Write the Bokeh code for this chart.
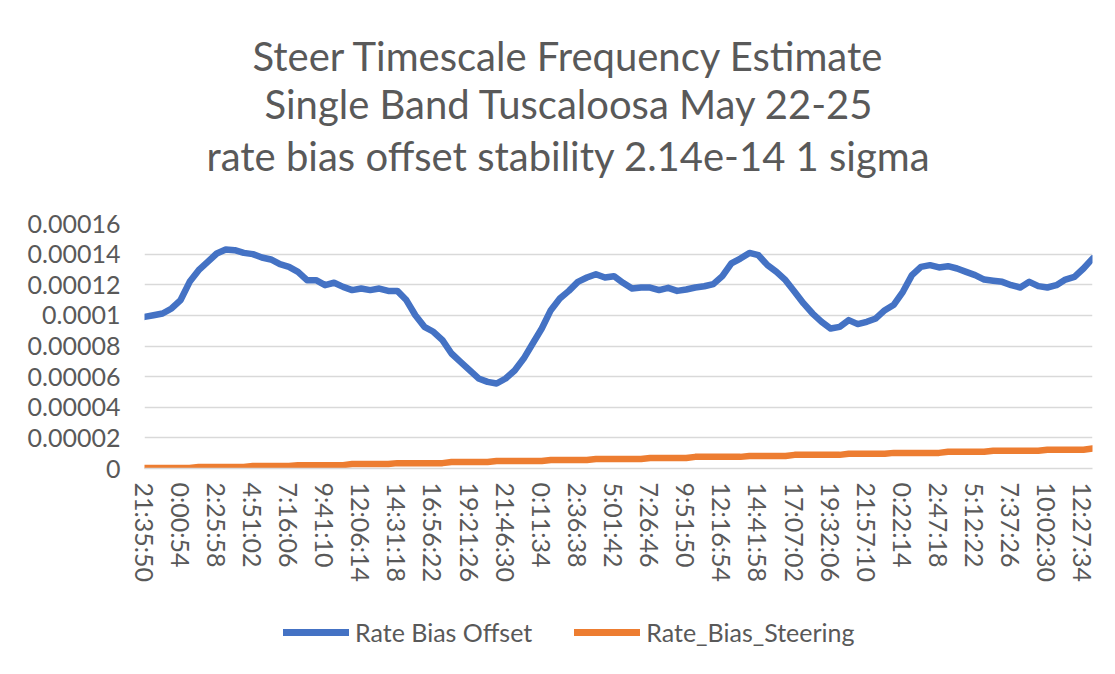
from bokeh.plotting import figure
from bokeh.layouts import column
from bokeh.models import Range1d, FixedTicker, CustomJSTickFormatter, Title, Legend, LegendItem, ColumnDataSource
from bokeh.embed import file_html
from bokeh.resources import INLINE

# ---- data ----
title_lines = [
    "Steer Timescale Frequency Estimate",
    "Single Band Tuscaloosa May 22-25",
    "rate bias offset stability 2.14e-14 1 sigma",
]
series_names = ["Rate Bias Offset", "Rate_Bias_Steering"]

time_labels = [
    "21:35:50", "0:00:54", "2:25:58", "4:51:02", "7:16:06", "9:41:10", "12:06:14",
    "14:31:18", "16:56:22", "19:21:26", "21:46:30", "0:11:34", "2:36:38", "5:01:42",
    "7:26:46", "9:51:50", "12:16:54", "14:41:58", "17:07:02", "19:32:06", "21:57:10",
    "0:22:14", "2:47:18", "5:12:22", "7:37:26", "10:02:30", "12:27:34",
]
samples_per_label = 4

rate_bias_offset = [
    0.0000990, 0.0001001, 0.0001012, 0.0001045, 0.0001100, 0.0001219, 0.0001295, 0.0001350,
    0.0001404, 0.0001430, 0.0001426, 0.0001408, 0.0001400, 0.0001378, 0.0001365, 0.0001334,
    0.0001317, 0.0001284, 0.0001230, 0.0001230, 0.0001197, 0.0001213, 0.0001186, 0.0001165,
    0.0001175, 0.0001165, 0.0001175, 0.0001160, 0.0001160, 0.0001100, 0.0001001, 0.0000925,
    0.0000893, 0.0000838, 0.0000751, 0.0000697, 0.0000642, 0.0000588, 0.0000566, 0.0000555,
    0.0000588, 0.0000640, 0.0000718, 0.0000816, 0.0000914, 0.0001034, 0.0001110, 0.0001160,
    0.0001219, 0.0001247, 0.0001269, 0.0001247, 0.0001256, 0.0001213, 0.0001175, 0.0001182,
    0.0001182, 0.0001165, 0.0001180, 0.0001160, 0.0001169, 0.0001182, 0.0001190, 0.0001204,
    0.0001256, 0.0001339, 0.0001371, 0.0001408, 0.0001393, 0.0001328, 0.0001284, 0.0001230,
    0.0001154, 0.0001078, 0.0001012, 0.0000958, 0.0000914, 0.0000925, 0.0000969, 0.0000943,
    0.0000958, 0.0000980, 0.0001034, 0.0001070, 0.0001154, 0.0001263, 0.0001317, 0.0001328,
    0.0001313, 0.0001321, 0.0001306, 0.0001284, 0.0001263, 0.0001234, 0.0001226, 0.0001219,
    0.0001197, 0.0001182, 0.0001219, 0.0001191, 0.0001182, 0.0001197, 0.0001234, 0.0001252,
    0.0001306, 0.0001371,
]

rate_bias_steering = [
    0.0000003, 0.0000003, 0.0000003, 0.0000003, 0.0000003, 0.0000003,
    0.0000010, 0.0000010, 0.0000010, 0.0000010, 0.0000010, 0.0000010,
    0.0000016, 0.0000016, 0.0000016, 0.0000016, 0.0000016,
    0.0000022, 0.0000022, 0.0000022, 0.0000022, 0.0000022, 0.0000022,
    0.0000029, 0.0000029, 0.0000029, 0.0000029, 0.0000029,
    0.0000035, 0.0000035, 0.0000035, 0.0000035, 0.0000035, 0.0000035,
    0.0000042, 0.0000042, 0.0000042, 0.0000042, 0.0000042,
    0.0000049, 0.0000049, 0.0000049, 0.0000049, 0.0000049, 0.0000049,
    0.0000056, 0.0000056, 0.0000056, 0.0000056, 0.0000056,
    0.0000062, 0.0000062, 0.0000062, 0.0000062, 0.0000062, 0.0000062,
    0.0000069, 0.0000069, 0.0000069, 0.0000069, 0.0000069,
    0.0000076, 0.0000076, 0.0000076, 0.0000076, 0.0000076, 0.0000076,
    0.0000082, 0.0000082, 0.0000082, 0.0000082, 0.0000082,
    0.0000089, 0.0000089, 0.0000089, 0.0000089, 0.0000089, 0.0000089,
    0.0000096, 0.0000096, 0.0000096, 0.0000096, 0.0000096,
    0.0000102, 0.0000102, 0.0000102, 0.0000102, 0.0000102, 0.0000102,
    0.0000109, 0.0000109, 0.0000109, 0.0000109, 0.0000109,
    0.0000116, 0.0000116, 0.0000116, 0.0000116, 0.0000116, 0.0000116,
    0.0000123, 0.0000123, 0.0000123, 0.0000123, 0.0000123,
    0.0000130,
]

y_ticks = [0.0, 0.00002, 0.00004, 0.00006, 0.00008, 0.0001, 0.00012, 0.00014, 0.00016]

# ---- build ----
n = len(rate_bias_offset)
sample_index = list(range(n))
source = ColumnDataSource(dict(x=sample_index, offset=rate_bias_offset, steering=rate_bias_steering))

FONT = "Lato"
TXT = "#595959"
BLUE = "#4472C4"
ORANGE = "#ED7D31"

p = figure(width=1099, height=600, output_backend="svg", toolbar_location=None,
           x_range=Range1d(0, n - 1), y_range=Range1d(y_ticks[0], y_ticks[-1]),
           min_border_left=144, min_border_right=7, min_border_top=223, min_border_bottom=132,
           background_fill_color="white", border_fill_color="white")
p.outline_line_color = None

# titles: stacked outward from the plot frame (spacer first)
p.add_layout(Title(text=" ", text_font=FONT, text_font_size="30px", standoff=3), "above")
title_offsets = [108, 120, 62]
title_standoffs = [-2, -2, 6]
for line, off, so in reversed(list(zip(title_lines, title_offsets, title_standoffs))):
    p.add_layout(Title(text=line, align="left", offset=off, text_font=FONT,
                       text_font_size="40px", text_font_style="normal", text_color=TXT,
                       standoff=so), "above")

p.line("x", "offset", source=source, line_color=BLUE, line_width=6.5,
       line_cap="round", line_join="round")
p.line("x", "steering", source=source, line_color=ORANGE, line_width=6.5,
       line_cap="round", line_join="round")

# axes
tick_pos = [i * samples_per_label for i in range(len(time_labels))]
p.xaxis.ticker = FixedTicker(ticks=tick_pos)
p.xaxis.major_label_overrides = {t: lab for t, lab in zip(tick_pos, time_labels)}
p.xaxis.major_label_orientation = "vertical"
p.xaxis.axis_line_color = "#d9d9d9"
p.xaxis.axis_line_width = 1.5
p.xaxis.major_tick_line_color = None
p.xaxis.minor_tick_line_color = None
p.xaxis.major_tick_out = 0
p.xaxis.minor_tick_out = 0
p.xaxis.major_label_standoff = 14
p.xaxis.major_label_text_font = FONT
p.xaxis.major_label_text_font_size = "25px"
p.xaxis.major_label_text_color = TXT

p.yaxis.ticker = FixedTicker(ticks=y_ticks)
p.yaxis.formatter = CustomJSTickFormatter(code="return tick.toFixed(5).replace(/\\.?0+$/, '');")
p.yaxis.axis_line_color = None
p.yaxis.major_tick_line_color = None
p.yaxis.minor_tick_line_color = None
p.yaxis.major_tick_out = 0
p.yaxis.minor_tick_out = 0
p.yaxis.major_label_standoff = 24
p.yaxis.major_label_text_font = FONT
p.yaxis.major_label_text_font_size = "25px"
p.yaxis.major_label_text_color = TXT

p.xgrid.visible = False
p.ygrid.grid_line_color = "#d9d9d9"
p.ygrid.grid_line_width = 1.5

# legend strip beneath the chart (its series lie outside its visible range,
# only the legend swatches show)
lg = figure(width=1099, height=58, output_backend="svg", toolbar_location=None,
            x_range=Range1d(0, n - 1), y_range=Range1d(1, 2),
            min_border_left=144, min_border_right=7, min_border_top=0, min_border_bottom=0,
            background_fill_color="white", border_fill_color="white")
lg.outline_line_color = None
lg.axis.visible = False
lg.grid.visible = False
k1 = lg.line("x", "offset", source=source, line_color=BLUE, line_width=7, line_cap="round")
k2 = lg.line("x", "steering", source=source, line_color=ORANGE, line_width=7, line_cap="round")
legend = Legend(items=[LegendItem(label=series_names[0], renderers=[k1]),
                       LegendItem(label=series_names[1], renderers=[k2])],
                orientation="horizontal", location=(139, 11),
                border_line_color=None, background_fill_alpha=0,
                label_text_font=FONT, label_text_font_size="25px", label_text_color=TXT,
                glyph_width=66, glyph_height=26, spacing=42, padding=0, margin=0,
                label_standoff=6)
lg.add_layout(legend, "center")

open("out.html", "w").write(file_html(column(p, lg, spacing=0), INLINE))
